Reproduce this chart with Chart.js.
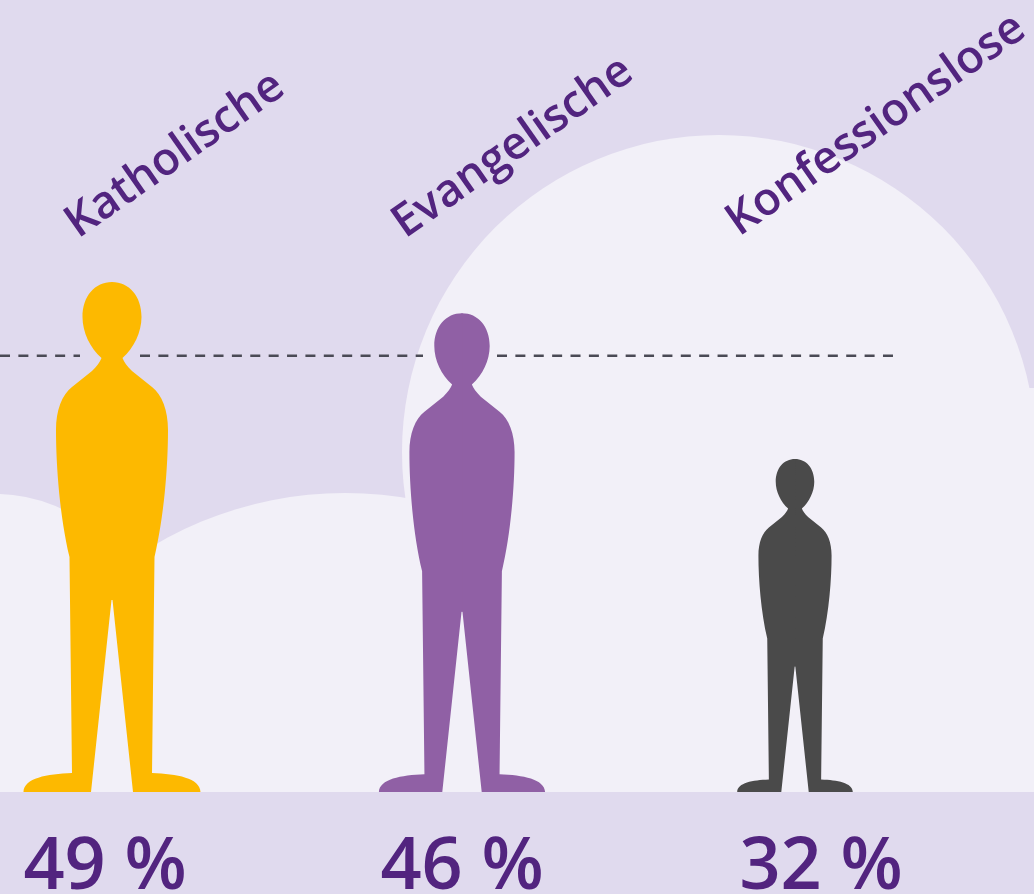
<!DOCTYPE html>
<html>
<head>
<meta charset="utf-8">
<title>Katholische, Evangelische, Konfessionslose</title>
<script src="https://cdn.jsdelivr.net/npm/chart.js@4"></script>
<style>
  html, body { margin: 0; padding: 0; background: #E0DAEE; }
  canvas { display: block; }
</style>
</head>
<body>
<canvas id="chart-figures" width="1034" height="894"></canvas>
<script>
// values
const categories = ["Katholische", "Evangelische", "Konfessionslose"];
const shares = [49, 46, 32];
const referenceLevel = 41.9;

// layout, in pixels of the 1034 wide x scale
const figureCenters = [112, 462, 795];
const percentCenters = [105, 462, 821];
const nameAnchors = [[78, 239], [405, 239], [739, 237]];
const referenceSegments = [[0, 80], [140, 423], [497, 893]];

const colorFigures = ["#FDB900", "#9060A5", "#4A4A4A"];
const colorText = "#52247F";
const colorHill = "#F2F0F8";
const colorDash = "#4A4A55";

const pxPerPercent = 10.41;
const baselineY = 792;

// right half of a person, drawn 510 units high, x from the middle, y from the head
const figureHeight = 510;
const halfFigure = new Path2D(
    "M-0.5 0 L0 0 C17 0 29.5 14 29.5 35 C29.5 50 22 66 10.5 76 " +
    "C12 80 15 84 20 89 L40 105 C50 113 56 128 56 148 " +
    "C56 185 52 235 42.5 275 L40 491 " +
    "C65 492 88 496 88.5 510 L21 510 L0.5 318 L-0.5 318 Z"
);

const hillsPlugin = {
    id: 'hills',
    beforeDatasetsDraw(chart) {
        const ctx = chart.ctx;
        const bottom = chart.chartArea.bottom;
        const circle = (x, y, r) => {
            ctx.beginPath();
            ctx.arc(x, y, r, 0, Math.PI * 2);
            ctx.fill();
        };
        ctx.save();
        ctx.beginPath();
        ctx.rect(0, 0, 1034, bottom);
        ctx.clip();
        ctx.fillStyle = colorHill;
        circle(719, 452, 317);
        circle(345, 868, 375);
        circle(-5, 652, 158);
        ctx.fillRect(719, 452, 315, bottom - 452);
        ctx.fillRect(1027, 388, 7, bottom - 388);
        ctx.fillRect(0, 600, 1034, bottom - 600);
        ctx.restore();
    }
};

const figuresPlugin = {
    id: 'figures',
    beforeDatasetDraw(chart, args) {
        if (args.meta.type !== 'bar') return;
        const ctx = chart.ctx;
        args.meta.data.forEach((bar, i) => {
            const scale = (bar.base - bar.y) / figureHeight;
            ctx.save();
            ctx.fillStyle = colorFigures[i];
            ctx.translate(bar.x, bar.y);
            ctx.scale(scale, scale);
            ctx.fill(halfFigure);
            ctx.scale(-1, 1);
            ctx.fill(halfFigure);
            ctx.restore();
        });
        return false;
    },
    afterDraw(chart) {
        const ctx = chart.ctx;
        ctx.save();
        ctx.fillStyle = colorText;
        ctx.font = "600 45.5px 'Open Sans'";
        ctx.textAlign = 'left';
        ctx.textBaseline = 'alphabetic';
        categories.forEach((name, i) => {
            ctx.save();
            ctx.translate(nameAnchors[i][0], nameAnchors[i][1]);
            ctx.rotate(-35 * Math.PI / 180);
            ctx.fillText(name, 0, 0);
            ctx.restore();
        });
        ctx.restore();
    }
};

const referenceData = [];
referenceSegments.forEach(seg => {
    referenceData.push({x: seg[0], y: referenceLevel});
    referenceData.push({x: seg[1], y: referenceLevel});
    referenceData.push({x: seg[1] + 1, y: null});
});

var chart_figures = new Chart(document.getElementById("chart-figures").getContext('2d'), {
    plugins: [hillsPlugin, figuresPlugin],
    data: {
        datasets: [
            {
                type: 'bar',
                label: 'Anteil',
                data: shares.map((v, i) => ({x: figureCenters[i], y: v})),
                backgroundColor: colorFigures,
                order: 0
            },
            {
                type: 'line',
                label: 'Referenz',
                data: referenceData,
                borderColor: colorDash,
                borderWidth: 2.5,
                borderDash: [10, 8.38],
                pointRadius: 0,
                spanGaps: false,
                order: 1
            }
        ]
    },
    options: {
        responsive: false,
        animation: false,
        layout: { padding: 0 },
        plugins: {
            legend: { display: false },
            tooltip: { enabled: false }
        },
        scales: {
            x: {
                type: 'linear',
                offset: false,
                min: 0,
                max: 1034,
                grid: { display: false },
                border: { display: false },
                afterBuildTicks: axis => {
                    axis.ticks = percentCenters.map(v => ({value: v}));
                },
                afterFit: axis => {
                    axis.height = 894 - baselineY;
                    axis.paddingLeft = 0;
                    axis.paddingRight = 0;
                },
                ticks: {
                    autoSkip: false,
                    maxRotation: 0,
                    padding: 25,
                    color: colorText,
                    font: { family: "'Open Sans'", size: 72, weight: '600' },
                    callback: (value, index) => shares[index] + " %"
                }
            },
            y: {
                display: false,
                min: 0,
                max: baselineY / pxPerPercent
            }
        }
    }
});
</script>
</body>
</html>
